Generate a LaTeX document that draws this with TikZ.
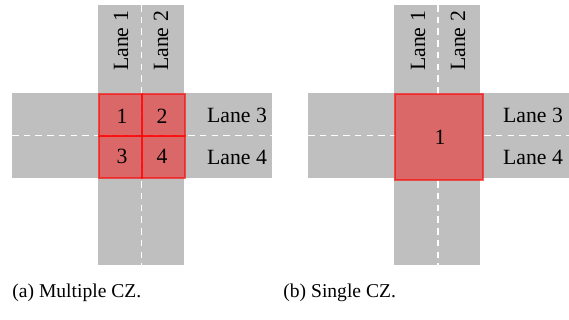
\documentclass[tikz,border=0pt]{standalone}
\usepackage{fontspec}
\setmainfont{Liberation Serif}
\tikzset{
 road/.style={fill=lightgray},
 lanemark/.style={white,dash pattern=on 3pt off 2.4pt,line width=0.5pt},
 czone/.style={draw=red,draw opacity=0.6,fill=red,fill opacity=0.45,line width=0.7pt},
 lanelbl/.style={font=\fontsize{10}{12}\selectfont,inner sep=0pt},
 caplbl/.style={font=\fontsize{9}{11}\selectfont,anchor=base west,inner sep=0pt}
}
\begin{document}
\begin{tikzpicture}[x=0.46pt,y=-0.46pt]
 \useasboundingbox (0,0) rectangle (569,320);
 % (a) four conflict zones
 \fill[road] (98,5) rectangle (184,265);
 \fill[road] (12,93) rectangle (272,178);
 \draw[lanemark] (141.5,5)--(141.5,265);
 \draw[lanemark] (12,135.5)--(272,135.5);
 \draw[czone] (99,94) rectangle (142,136);
 \draw[czone] (142,94) rectangle (185,136);
 \draw[czone] (99,136) rectangle (142,178);
 \draw[czone] (142,136) rectangle (185,178);
 \node[lanelbl] (za1) at (122,116) {1};
 \node[lanelbl] (za2) at (162,116) {2};
 \node[lanelbl] (za3) at (122,156) {3};
 \node[lanelbl] (za4) at (162,156) {4};
 \node[lanelbl,rotate=90] (la1) at (121,41) {Lane 1};
 \node[lanelbl,rotate=90] (la2) at (161,41) {Lane 2};
 \node[lanelbl] (la3) at (237,115) {Lane 3};
 \node[lanelbl] (la4) at (237,157) {Lane 4};
 \node[caplbl] (capa) at (12,298) {(a) Multiple CZ.};
 % (b) one conflict zone
 \fill[road] (394,5) rectangle (480,265);
 \fill[road] (308,93) rectangle (569,178);
 \draw[lanemark] (438,5)--(438,265);
 \draw[lanemark] (308,135.5)--(569,135.5);
 \fill[road] (395,94) rectangle (483,180);
 \draw[czone] (395,94) rectangle (483,180);
 \node[lanelbl] (zb1) at (440,137) {1};
 \node[lanelbl,rotate=90] (lb1) at (418,41) {Lane 1};
 \node[lanelbl,rotate=90] (lb2) at (458,41) {Lane 2};
 \node[lanelbl] (lb3) at (533,115) {Lane 3};
 \node[lanelbl] (lb4) at (533,157) {Lane 4};
 \node[caplbl] (capb) at (283,298) {(b) Single CZ.};
\end{tikzpicture}
\end{document}
